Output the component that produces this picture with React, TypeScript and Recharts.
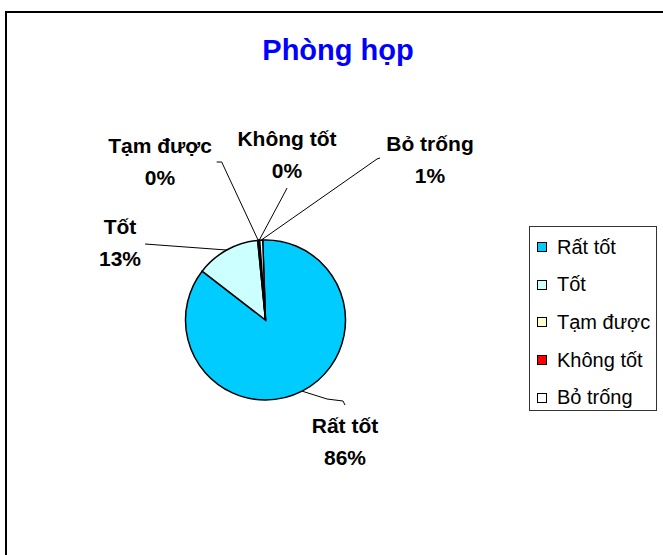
import React from 'react'
import { PieChart, Pie, Cell, Legend } from 'recharts'

const categories = ['Rất tốt', 'Tốt', 'Tạm được', 'Không tốt', 'Bỏ trống']
const shares = [86.0, 13.0, 0.2, 0.2, 0.6]
const colors = ['#00CCFF', '#CCFFFF', '#FFFFCC', '#FF0000', '#FFFFFF']

// where Excel put each data label, relative to the pie centre, plus its leader line bends
const labelSpots = [
  { tx: 79.5, ty: 105, leader: [[79.5, 85], [77.5, 81], [61.5, 79]] },
  { tx: -145.5, ty: -94, leader: [[-120.5, -76]] },
  { tx: -105.5, ty: -175, leader: [[-48.8, -158], [-43.8, -158]] },
  { tx: 21.5, ty: -182, leader: [[21.5, -132], [19.5, -128]] },
  { tx: 164.5, ty: -177, leader: [[114.5, -162], [111.5, -161]] },
]

const data = categories.map((name, i) => ({ name, value: shares[i] }))

const FONT = '"Liberation Sans", Arial, sans-serif'
const RAD = Math.PI / 180

const renderLabel = (props: any) => {
  const { cx, cy, midAngle, outerRadius, percent, index } = props
  const spot = labelSpots[index]
  const ex = cx + Math.cos(-midAngle * RAD) * outerRadius
  const ey = cy + Math.sin(-midAngle * RAD) * outerRadius
  const pts = spot.leader.map((p) => `${cx + p[0]},${cy + p[1]}`).concat(`${ex},${ey}`).join(' ')
  const x = cx + spot.tx
  const y = cy + spot.ty
  return (
    <g key={`lbl-${index}`}>
      <polyline points={pts} fill="none" stroke="#000" strokeWidth={1} />
      <text x={x} y={y} textAnchor="middle" dominantBaseline="central" fontFamily={FONT} fontWeight="bold" fontSize={21} fill="#000">
        {categories[index]}
      </text>
      <text x={x} y={y + 32} textAnchor="middle" dominantBaseline="central" fontFamily={FONT} fontWeight="bold" fontSize={21} fill="#000">
        {Math.round(percent * 100)}%
      </text>
    </g>
  )
}

const renderLegend = () => (
  <div
    style={{
      width: 128,
      height: 185,
      border: '1px solid #333',
      background: '#fff',
      boxSizing: 'border-box',
      fontFamily: FONT,
      fontSize: 20,
      color: '#000',
      position: 'relative',
    }}
  >
    {categories.map((c, i) => (
      <div key={c} style={{ position: 'absolute', left: 7, top: 20 + i * 37.7 - 12, height: 24, display: 'flex', alignItems: 'center', whiteSpace: 'nowrap' }}>
        <span style={{ width: 8, height: 8, border: '1px solid #000', background: colors[i], marginRight: 10, display: 'inline-block' }} />
        <span>{c}</span>
      </div>
    ))}
  </div>
)

export default function App() {
  return (
    <div style={{ position: 'absolute', left: 0, top: 0, width: 663, height: 555, overflow: 'hidden', background: '#fff' }}>
      <div style={{ position: 'absolute', left: 5, top: 11, width: 720, height: 620, borderLeft: '2px solid #000', borderTop: '2px solid #000' }} />
      <div
        style={{
          position: 'absolute',
          left: 238,
          top: 32,
          width: 200,
          textAlign: 'center',
          fontFamily: FONT,
          fontWeight: 'bold',
          fontSize: 29,
          color: '#0000FF',
          lineHeight: '36px',
        }}
      >
        Phòng họp
      </div>
      <div style={{ position: 'absolute', left: 0, top: 0 }}>
        <PieChart width={663} height={555} margin={{ top: 0, right: 0, bottom: 0, left: 0 }}>
          <Pie
            data={data}
            dataKey="value"
            nameKey="name"
            cx={265.5}
            cy={320}
            outerRadius={80}
            startAngle={92}
            endAngle={-268}
            stroke="#000"
            strokeWidth={1.5}
            label={renderLabel}
            labelLine={false}
            isAnimationActive={false}
          >
            {data.map((d, i) => (
              <Cell key={d.name} fill={colors[i]} />
            ))}
          </Pie>
          <Legend content={renderLegend} wrapperStyle={{ position: 'absolute', left: 529, top: 226, width: 128, height: 185 }} />
        </PieChart>
      </div>
    </div>
  )
}
